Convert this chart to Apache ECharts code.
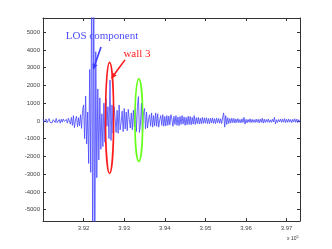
<!DOCTYPE html>
<html>
<head>
<meta charset="utf-8">
<script src="https://cdn.jsdelivr.net/npm/echarts@6/dist/echarts.min.js"></script>
<style>html,body{margin:0;padding:0;background:#fff}#c{width:332px;height:249px}</style>
</head>
<body>
<div id="c"></div>
<script>
// sample positions: start and spacing of the recorded signal (x units)
const X_START = 391000;
const X_STEP = 25;
// signal amplitudes, one per sample
const signalValues = [
  90,-70,30,110,-100,-40,130,-80,20,-110,
  70,120,-90,140,-100,-30,80,-130,90,-70,
  110,-20,-100,80,-120,150,40,-180,200,-250,
  300,-380,60,260,-330,180,-280,350,-420,600,
  900,-1000,1400,-1300,500,-2400,2900,-2900,9000,-9000,
  9000,-9000,3900,-3200,1800,-2200,1300,-1600,400,-1450,
  1000,-1200,1300,-300,800,-1000,2300,-1100,900,-700,
  800,200,-650,600,-700,900,-500,-100,550,-600,
  700,-450,500,-550,650,100,-400,450,-500,600,
  -350,700,-600,800,1370,-650,-200,1000,-750,450,
  700,-450,500,-400,100,350,-300,450,-350,300,
  -280,450,-300,400,-350,50,300,-250,350,-300,
  250,-280,300,-250,280,-220,350,100,-300,260,
  -200,300,-250,220,-270,250,-200,300,-180,230,
  -250,200,-220,260,-200,250,-220,200,-180,300,
  -200,180,-150,200,-170,150,-160,200,-140,170,
  -130,180,-150,140,-160,150,-120,170,-140,130,
  -150,160,-110,140,-130,120,-150,180,450,-350,
  300,-200,180,-150,130,-120,150,-100,140,-120,
  110,-90,130,-100,80,-110,120,-90,200,-180,
  90,-110,80,-70,120,-100,90,-80,70,-90,
  100,-80,90,-110,100,-80,150,-120,100,-90,
  80,-70,110,-90,60,-80,90,-60,200,-170,
  70,-90,80,-60,110,-80,100,-70,130,-100,
  90,-80,110,-70,80,-100,90,-60,120,-80,
  100,-90,70,-80
];
// axis ticks
const xTicks = [392000, 393000, 394000, 395000, 396000, 397000];
const yTicks = [-5000, -4000, -3000, -2000, -1000, 0, 1000, 2000, 3000, 4000, 5000];
const X_RANGE = [391000, 397330];
const Y_RANGE = [-5640, 5800];
// annotations (data coordinates)
const ellipseRed = {cx: 392640, cy: 170, rx: 100, ry: 3130};
const ellipseGreen = {cx: 393360, cy: 40, rx: 95, ry: 2330};
const arrowBlue = {from: [392429, 4171], to: [392232, 2875]};
const arrowRed = {from: [393020, 3439], to: [392675, 2368]};
const labelBlue = {text: 'LOS component', at: [392453, 4752]};
const labelRed = {text: 'wall 3', at: [393315, 3777]};

const seriesData = signalValues.map((v, i) => [X_START + i * X_STEP, v]);

const chart = echarts.init(document.getElementById('c'), null, {renderer: 'canvas'});
const axCol = '#333';
const tickFont = {fontFamily: 'Liberation Sans, Arial, sans-serif', fontSize: 6, color: '#444'};
function xAx(pos, showLabel) {
  return {
    type: 'value', position: pos, min: X_RANGE[0], max: X_RANGE[1],
    axisLine: {show: true, onZero: false, lineStyle: {color: axCol, width: 1}},
    axisTick: {show: true, inside: true, length: 3, customValues: xTicks, lineStyle: {color: axCol}},
    axisLabel: Object.assign({show: showLabel, customValues: xTicks, margin: 4,
      formatter: v => (v / 1e5).toFixed(2)}, tickFont),
    splitLine: {show: false}
  };
}
function yAx(pos, showLabel) {
  return {
    type: 'value', position: pos, min: Y_RANGE[0], max: Y_RANGE[1],
    axisLine: {show: true, onZero: false, lineStyle: {color: axCol, width: 1}},
    axisTick: {show: true, inside: true, length: 3, customValues: yTicks, lineStyle: {color: axCol}},
    axisLabel: Object.assign({show: showLabel, customValues: yTicks, margin: 3,
      formatter: v => String(v)}, tickFont),
    splitLine: {show: false}
  };
}
chart.setOption({
  animation: false,
  backgroundColor: '#fff',
  grid: {left: 43, right: 32, top: 18, bottom: 28, containLabel: false},
  xAxis: [xAx('bottom', true), xAx('top', false)],
  yAxis: [yAx('left', true), yAx('right', false)],
  series: [{
    type: 'line', data: seriesData, showSymbol: false, symbol: 'none',
    clip: true, sampling: null,
    lineStyle: {color: '#4545ff', width: 0.8}
  }]
});

function px(p) { return chart.convertToPixel({xAxisIndex: 0, yAxisIndex: 0}, p); }
function ellipseG(e, color) {
  const c = px([e.cx, e.cy]);
  const a = px([e.cx + e.rx, e.cy + e.ry]);
  return {type: 'ellipse', shape: {cx: c[0], cy: c[1], rx: Math.abs(a[0] - c[0]), ry: Math.abs(a[1] - c[1])},
    style: {fill: null, stroke: color, lineWidth: 1.6}, z: 10};
}
function arrowG(ar, color) {
  const f = px(ar.from), t = px(ar.to);
  const dx = t[0] - f[0], dy = t[1] - f[1];
  const L = Math.hypot(dx, dy), ux = dx / L, uy = dy / L;
  const hl = 6, hw = 2.6;
  const bx = t[0] - ux * hl, by = t[1] - uy * hl;
  return [
    {type: 'line', shape: {x1: f[0], y1: f[1], x2: bx, y2: by}, style: {stroke: color, lineWidth: 1.6}, z: 10},
    {type: 'polygon', shape: {points: [[t[0], t[1]], [bx - uy * hw, by + ux * hw], [bx + uy * hw, by - ux * hw]]},
      style: {fill: color}, z: 10}
  ];
}
function labelG(l, color) {
  const p = px(l.at);
  return {type: 'text', x: p[0], y: p[1], z: 11,
    style: {text: l.text, fill: color, font: '11px "Liberation Serif", "Times New Roman", serif',
      align: 'center', verticalAlign: 'middle'}};
}
const corner = px([X_RANGE[1], Y_RANGE[0]]);
chart.setOption({
  graphic: [
    ellipseG(ellipseRed, '#ff1a1a'),
    ellipseG(ellipseGreen, '#66ff1a'),
    ...arrowG(arrowBlue, '#3a3aff'),
    ...arrowG(arrowRed, '#ff1a1a'),
    labelG(labelBlue, '#4d4dff'),
    labelG(labelRed, '#ff1a1a'),
    {type: 'text', x: corner[0] - 13, y: corner[1] + 14, z: 11,
      style: {text: 'x 10{s|5}', rich: {s: {fontSize: 4, verticalAlign: 'top', padding: [0, 0, 3, 0]}},
        font: '5px "Liberation Sans", Arial, sans-serif', fill: '#333'}}
  ]
});
</script>
</body>
</html>
